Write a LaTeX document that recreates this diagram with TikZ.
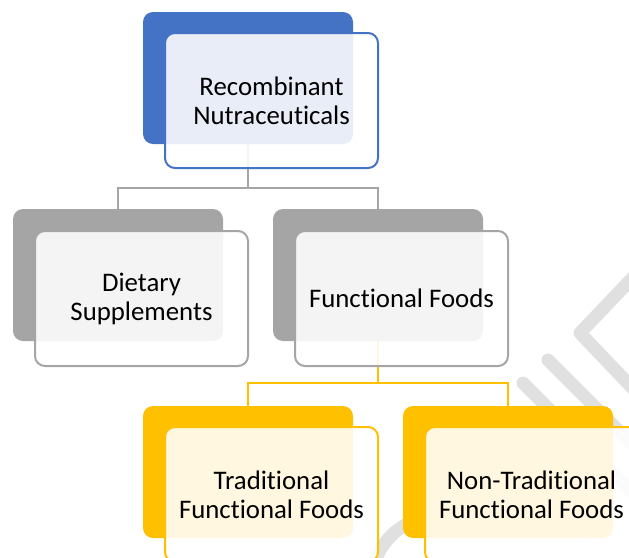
\documentclass[tikz,border=0pt]{standalone}
\usepackage{fontspec}
\setmainfont{Carlito}[Ligatures=NoCommon]
\usepackage{xcolor}
\usepackage{tikz}
\usetikzlibrary{calc}

\definecolor{rnblue}{HTML}{4472C4}
\definecolor{rngray}{HTML}{A5A5A5}
\definecolor{rngold}{HTML}{FFC000}
\definecolor{wmgray}{HTML}{E0E0E0}

\tikzset{
  backbox/.style={shape=rectangle,rounded corners=10pt,minimum width=210pt,minimum height=132pt,fill=#1,draw=none},
  frontbox/.style={shape=rectangle,rounded corners=10pt,minimum width=213pt,minimum height=135pt,draw=#1,line width=2pt,fill=white,fill opacity=0.88,text opacity=1,align=center,font=\fontsize{26.8}{29}\selectfont},
  link/.style={draw=#1,line width=2pt},
  wmstripe/.style={draw=wmgray,line width=13pt,line cap=round,line join=round}
}

\begin{document}
\begin{tikzpicture}[x=1pt,y=-1pt]
\clip (0,0) rectangle (629,557);

\draw[wmstripe] (523,383) -- (640,500);
\draw[wmstripe] (548,360) -- (640,452);
\draw[wmstripe] (640,270) -- (580,333) -- (640,396);
\draw[wmstripe] (372,570) .. controls (382,535) and (405,520) .. (435,515);

\node (RNb) [backbox=rnblue] at (248,78) {};
\node (DSb) [backbox=rngray] at (118,275) {};
\node (FFb) [backbox=rngray] at (378,275) {};
\node (TFb) [backbox=rngold] at (248,472) {};
\node (NTb) [backbox=rngold] at (508,472) {};

\draw[link=rngray] (RNb.south) -- ++(0,44) -| (DSb.north);
\draw[link=rngray] (RNb.south) -- ++(0,44) -| (FFb.north);
\draw[link=rngold] (FFb.south) -- ++(0,42) -| (TFb.north);
\draw[link=rngold] (FFb.south) -- ++(0,42) -| (NTb.north);

\node (RN) [frontbox=rnblue] at ($(RNb)+(23.5,22.5)$) {Recombinant\\Nutraceuticals};
\node (DS) [frontbox=rngray] at ($(DSb)+(23.5,23.5)$) {Dietary\\Supplements};
\node (FF) [frontbox=rngray] at ($(FFb)+(23.5,23.5)$) {Functional Foods};
\node (TF) [frontbox=rngold] at ($(TFb)+(23.5,22.5)$) {Traditional\\Functional Foods};
\node (NT) [frontbox=rngold] at ($(NTb)+(23.5,22.5)$) {Non-Traditional\\Functional Foods};

\end{tikzpicture}
\end{document}
